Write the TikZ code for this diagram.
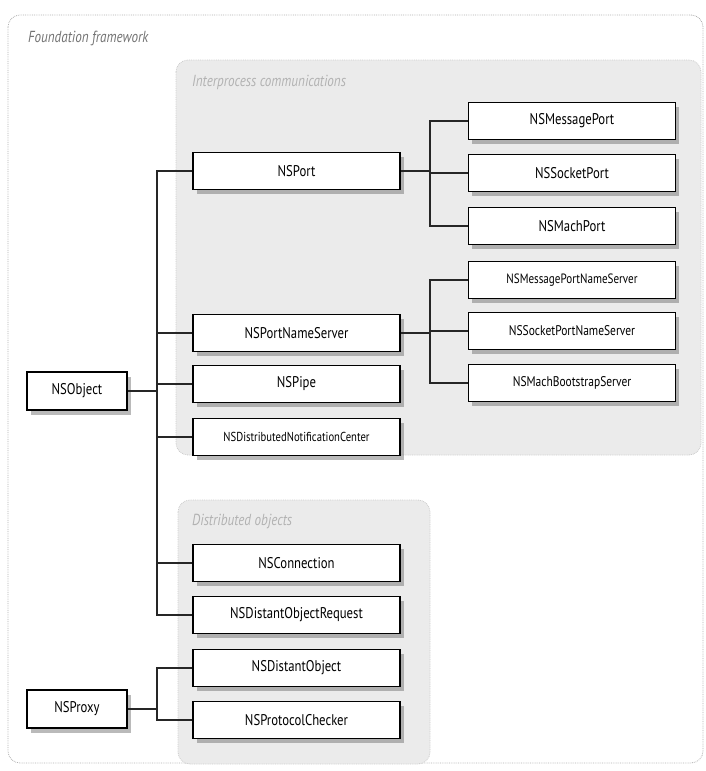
\documentclass[tikz,border=0pt]{standalone}
\usepackage{fontspec}
\setmainfont{PT Sans}[FakeStretch=0.82]
\usetikzlibrary{shadows}
\begin{document}
\begin{tikzpicture}[x=1pt,y=-1pt,
  cls/.style={draw=black, line width=1.9pt, fill=white, minimum width=207pt,
    minimum height=37pt, inner sep=0pt, font=\fontsize{15.5}{15.5}\selectfont,
    drop shadow={opacity=0.45, fill=black!60, shadow xshift=3.5pt, shadow yshift=-4.5pt}},
  root/.style={cls, minimum width=100pt, minimum height=38pt},
  link/.style={draw=black!85, line width=1.3pt},
  grouptitle/.style={anchor=west, font=\itshape\fontsize{16}{16}\selectfont, inner sep=0pt},
  group/.style={draw=black!20, line width=0.8pt, densely dotted, rounded corners=12pt}]
\useasboundingbox (0,0) rectangle (706,771);
\fill[white] (0,0) rectangle (706,771);

% outer framework frame
\draw[group, draw=black!30, fill=white] (8,15) rectangle (703,763);
\node[grouptitle, text=black!55] at (28,38) {Foundation framework};

% nested groups
\draw[group, fill=black!8] (176,60) rectangle (701,455);
\node[grouptitle, text=black!30] at (192,82) {Interprocess communications};
\draw[group, fill=black!8] (178,500) rectangle (430,764);
\node[grouptitle, text=black!30] at (192,521) {Distributed objects};

% root classes
\node[root] (obj) at (77,391) {NSObject};
\node[root] (proxy) at (77,709) {NSProxy};

% middle column
\node[cls] (port) at (296.5,171) {NSPort};
\node[cls] (pns) at (296.5,333) {NSPortNameServer};
\node[cls] (pipe) at (296.5,384) {NSPipe};
\node[cls, font=\fontsize{13}{13}\selectfont] (dnc) at (296.5,437) {NSDistributedNotificationCenter};
\node[cls] (conn) at (296.5,563) {NSConnection};
\node[cls] (dor) at (296.5,615) {NSDistantObjectRequest};
\node[cls] (dob) at (296.5,668) {NSDistantObject};
\node[cls] (pc) at (296.5,720) {NSProtocolChecker};

% right column
\node[cls] (mport) at (572,121) {NSMessagePort};
\node[cls] (sport) at (572,173) {NSSocketPort};
\node[cls] (machport) at (572,226) {NSMachPort};
\node[cls, font=\fontsize{13.5}{13.5}\selectfont] (mpns) at (572,280) {NSMessagePortNameServer};
\node[cls, font=\fontsize{14}{14}\selectfont] (spns) at (572,331) {NSSocketPortNameServer};
\node[cls, font=\fontsize{14}{14}\selectfont] (mbs) at (572,383) {NSMachBootstrapServer};

% branch points
\coordinate (objtrunk) at (157,391);
\coordinate (proxytrunk) at (157,709);
\coordinate (porttrunk) at (430,171);
\coordinate (pnstrunk) at (430,333);

% NSObject subclasses
\draw[link] (obj.east) -- (objtrunk);
\foreach \c in {port,pns,pipe,dnc,conn,dor}
  \draw[link] (objtrunk) |- (\c.west);

% NSProxy subclasses
\draw[link] (proxy.east) -- (proxytrunk);
\foreach \c in {dob,pc}
  \draw[link] (proxytrunk) |- (\c.west);

% NSPort subclasses
\draw[link] (port.east) -- (porttrunk);
\foreach \c in {mport,sport,machport}
  \draw[link] (porttrunk) |- (\c.west);

% NSPortNameServer subclasses
\draw[link] (pns.east) -- (pnstrunk);
\foreach \c in {mpns,spns,mbs}
  \draw[link] (pnstrunk) |- (\c.west);
\end{tikzpicture}
\end{document}
